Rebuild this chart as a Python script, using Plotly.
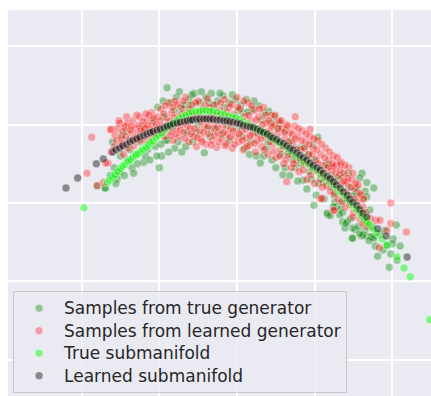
import plotly.graph_objects as go

# ---- data (grid units), as (x, y) pairs ----
true_gen = [
    (-1.69, 0.19), (-1.70, 0.19), (-1.54, 0.31), (-1.51, 0.40), (-1.60, 0.78), (-1.48, 0.86), (-1.40, 0.55),
    (-1.35, 0.45), (-1.30, 0.62), (-1.25, 0.78), (-1.20, 0.52), (-1.15, 0.68), (-1.10, 0.90), (-1.05, 0.72),
    (-1.00, 0.45), (-0.97, 0.60), (-0.92, 0.80), (-1.80, 0.22), (-1.58, 0.45), (-1.42, 0.92),
    (-0.90, 1.47), (-0.85, 1.28), (-0.78, 1.35), (-0.70, 1.20), (-0.62, 1.32), (-0.55, 1.40), (-0.48, 1.28),
    (-0.40, 1.35), (-0.33, 1.40), (-0.25, 1.30), (-0.18, 1.37), (-0.10, 1.28), (-0.02, 1.32), (0.05, 1.25),
    (0.12, 1.32), (0.20, 1.20), (0.28, 1.24), (0.35, 1.15), (0.41, 1.17), (0.48, 1.10), (0.55, 1.02),
    (-0.95, 1.30), (-1.02, 1.22),
    (-0.90, 0.80), (-0.80, 0.70), (-0.71, 0.65), (-0.65, 0.90), (-0.57, 0.78), (-0.50, 1.00), (-0.42, 0.64),
    (-0.35, 0.85), (-0.28, 0.95), (-0.20, 0.88), (-0.10, 0.80), (0.00, 0.95), (0.10, 0.70), (0.18, 0.78),
    (0.25, 0.60), (0.30, 0.51), (0.38, 0.70), (0.45, 0.55), (-0.60, 1.05), (-0.15, 1.05), (0.08, 1.15),
    (0.59, 0.36), (0.65, 0.62), (0.70, 0.80), (0.75, 0.45), (0.80, 0.70), (0.85, 0.29), (0.88, 0.55),
    (0.93, 0.40), (0.98, 0.74), (0.99, -0.03), (1.04, 0.84), (1.05, 0.25), (1.11, 0.26), (1.15, 0.50),
    (1.17, -0.15), (1.20, 0.35), (1.25, 0.10), (1.30, 0.30), (1.36, -0.24), (1.39, -0.32), (1.43, 0.38),
    (1.44, 0.20), (1.48, -0.45), (1.52, -0.34), (1.54, 0.13), (1.58, -0.10), (1.60, -0.42), (1.61, 0.38),
    (1.62, 0.06), (1.67, 0.26), (1.67, -0.42), (1.71, -0.09), (1.75, -0.43), (1.76, 0.19), (1.81, -0.68),
    (1.93, -0.54), (1.96, -0.82), (2.01, -0.46), (2.05, -0.28), (2.06, -0.73), (1.35, 0.00), (1.28, -0.05),
    (1.22, 0.20), (1.58, 0.32), (1.65, 0.15), (1.67, 0.08), (1.54, 0.19), (1.16, -0.13), (1.20, -0.16),
    (1.33, -0.08), (1.36, -0.12), (1.42, -0.24), (1.40, -0.26), (1.49, -0.32), (1.65, -0.34), (1.62, -0.41),
    (1.58, -0.39), (1.73, -0.43), (1.49, -0.45), (1.76, -0.45), (2.00, -0.52), (1.26, 0.01),
    (-1.63, 0.35), (-1.56, 0.25), (-1.50, 0.60), (-1.45, 0.35), (-1.38, 0.68), (-1.33, 0.38), (-1.28, 0.50),
    (-1.22, 0.95), (-1.18, 0.60), (-1.12, 0.55), (-1.08, 1.05), (-1.03, 0.60), (-0.98, 0.75), (-0.94, 1.10),
    (-0.88, 0.65), (-0.84, 0.95), (-0.80, 1.18), (-0.76, 0.78), (-0.74, 1.42), (-0.68, 1.25), (-0.66, 0.72),
    (-0.60, 1.25), (-0.58, 1.38), (-0.52, 0.90), (-0.46, 1.42), (-0.44, 1.10), (-0.38, 0.95), (-0.36, 1.28),
    (-0.30, 1.25), (-0.22, 1.40), (-0.16, 1.22), (-0.12, 0.98), (-0.06, 1.38), (0.02, 1.18), (0.06, 0.85),
    (0.14, 1.16), (0.16, 0.62), (0.22, 1.30), (0.24, 0.90), (0.32, 1.06), (0.34, 0.60), (0.40, 0.78),
    (0.44, 1.02), (0.50, 0.45), (0.52, 0.95), (0.56, 0.62), (0.62, 0.45), (0.62, 0.92), (0.68, 0.35),
    (0.72, 0.55), (0.78, 0.28), (0.82, 0.50), (0.86, 0.72), (0.90, 0.18), (0.92, 0.62), (0.96, 0.30),
    (1.00, 0.55), (1.02, 0.10), (1.08, 0.42), (1.12, 0.05), (1.18, 0.48), (1.24, -0.05), (1.26, 0.30),
    (1.32, -0.15), (1.34, 0.35), (1.40, 0.05), (1.46, -0.20), (1.50, 0.10), (1.56, -0.30), (1.64, -0.20),
    (1.70, -0.48), (1.74, -0.30), (1.78, -0.55), (1.84, -0.40), (1.88, -0.60), (1.90, -0.35), (1.98, -0.65),
    (2.10, -0.55),
]

learned_gen = [
    (-1.87, 0.84), (-1.93, 0.38), (-1.80, 0.22), (-1.72, 0.26), (-1.66, 0.51), (-1.62, 0.65), (-1.63, 0.93),
    (-1.62, 0.94), (-1.57, 0.87), (-1.52, 1.05), (-1.51, 1.02), (-1.45, 0.98), (-1.44, 0.97), (-1.42, 1.10),
    (-1.35, 0.89), (-1.38, 0.80), (-1.30, 0.95), (-1.28, 0.86), (-1.25, 1.10), (-1.22, 0.98), (-1.20, 0.90),
    (-1.16, 1.06), (-1.12, 0.95), (-1.10, 1.15), (-1.08, 1.02), (-1.05, 0.88), (-1.02, 1.10), (-1.50, 0.72),
    (-1.46, 0.62), (-1.40, 0.70), (-1.33, 0.73), (-1.55, 0.80), (-1.18, 0.80), (-1.69, 0.51),
    (-0.98, 1.20), (-0.95, 0.98), (-0.93, 0.85), (-0.90, 1.08), (-0.88, 1.28), (-0.86, 0.92), (-0.84, 1.15),
    (-0.82, 0.80), (-0.80, 1.30), (-0.78, 0.95), (-0.76, 1.10), (-0.74, 0.85), (-0.72, 1.22), (-0.70, 1.00),
    (-0.68, 0.90), (-0.66, 1.35), (-0.64, 1.15), (-0.62, 0.78), (-0.60, 0.95), (-0.58, 1.25), (-0.56, 0.85),
    (-0.54, 1.10), (-0.52, 0.72), (-0.50, 1.30), (-0.48, 0.92), (-0.46, 0.82), (-0.44, 1.20), (-0.42, 0.98),
    (-0.40, 0.75),
    (-0.38, 1.33), (-0.36, 0.88), (-0.34, 1.15), (-0.32, 0.80), (-0.30, 0.95), (-0.28, 1.25), (-0.26, 0.71),
    (-0.24, 0.90), (-0.22, 1.18), (-0.20, 0.83), (-0.18, 0.98), (-0.16, 1.32), (-0.14, 0.76), (-0.12, 0.88),
    (-0.10, 1.22), (-0.08, 0.95), (-0.06, 0.70), (-0.04, 1.13), (-0.02, 0.85), (0.00, 1.35), (0.02, 0.78),
    (0.04, 1.20), (0.06, 0.92), (0.08, 0.68), (0.10, 1.10), (0.12, 0.83), (0.14, 1.28), (0.16, 0.74),
    (0.18, 1.05), (0.20, 0.88), (0.22, 1.18), (0.24, 0.65), (0.26, 0.80), (0.28, 1.10), (0.30, 0.95),
    (0.32, 0.72), (0.34, 1.22), (0.36, 0.85), (0.38, 1.02),
    (0.40, 0.62), (0.42, 0.92), (0.44, 1.12), (0.46, 0.75), (0.48, 1.00), (0.50, 0.58), (0.52, 0.88),
    (0.54, 1.05), (0.56, 0.68), (0.58, 0.95), (0.60, 0.50), (0.62, 0.82), (0.64, 0.27), (0.64, 1.00),
    (0.66, 0.62), (0.68, 0.90), (0.70, 0.45), (0.72, 0.75), (0.74, 0.98), (0.75, 1.10), (0.76, 0.55),
    (0.78, 0.85), (0.80, 0.40), (0.82, 0.68), (0.84, 0.92), (0.86, 0.50), (0.88, 0.78), (0.90, 0.30),
    (0.92, 0.62), (0.94, 0.94), (0.94, 0.85), (0.96, 0.45), (0.98, 0.70), (1.00, 0.25),
    (1.02, 0.55), (1.04, 0.80), (1.06, 0.38), (1.08, 0.05), (1.08, 0.62), (1.10, 0.20), (1.12, 0.48),
    (1.14, 0.70), (1.16, 0.32), (1.18, 0.55), (1.20, 0.15), (1.22, 0.42), (1.24, -0.10), (1.24, 0.60),
    (1.26, 0.25), (1.28, 0.48), (1.30, 0.05), (1.32, 0.35), (1.34, 0.52), (1.36, 0.15), (1.38, 0.38),
    (1.40, -0.05), (1.42, 0.25), (1.44, 0.45), (1.46, 0.05), (1.48, 0.30), (1.50, -0.12), (1.52, 0.18),
    (1.55, 0.02), (1.58, -0.20), (1.60, 0.10), (1.62, -0.05), (1.65, -0.25),
    (1.79, -0.22), (1.84, -0.22), (1.83, -0.57), (1.93, -0.35), (1.98, -0.26), (1.98, 0.00), (2.18, -0.37),
    (1.62, -0.26), (1.49, -0.18), (1.25, -0.09), (1.09, 0.06), (1.39, 0.27), (1.33, 0.50), (1.24, 0.46),
    (1.56, 0.23),
    (-1.58, 0.72), (-1.54, 0.95), (-1.49, 0.83), (-1.47, 0.91), (-1.43, 0.85), (-1.41, 1.02), (-1.37, 0.93),
    (-1.34, 1.05), (-1.31, 0.82), (-1.27, 0.99), (-1.24, 0.92), (-1.21, 1.04), (-1.19, 0.95), (-1.15, 0.99),
    (-1.13, 1.12), (-1.09, 0.93), (-1.07, 1.08), (-1.04, 1.00), (-1.01, 0.97), (-1.36, 0.98), (-1.29, 1.12),
    (-1.17, 1.14), (-1.48, 0.76), (-1.25, 0.80), (-1.11, 0.84),
    (-0.99, 1.05), (-0.97, 0.90), (-0.94, 1.14), (-0.92, 1.24), (-0.89, 0.98), (-0.87, 1.04), (-0.85, 0.86),
    (-0.83, 1.22), (-0.81, 1.09), (-0.79, 0.88), (-0.77, 1.26), (-0.75, 1.02), (-0.73, 0.93), (-0.71, 1.14),
    (-0.69, 1.30), (-0.67, 0.82), (-0.65, 1.05), (-0.63, 0.98), (-0.61, 1.20), (-0.59, 0.88), (-0.57, 1.12),
    (-0.55, 0.95), (-0.53, 1.28), (-0.51, 0.83), (-0.49, 1.15), (-0.47, 1.04), (-0.45, 0.78), (-0.43, 0.90),
    (-0.41, 1.25), (-0.39, 1.08),
    (-0.37, 0.98), (-0.35, 1.22), (-0.33, 0.74), (-0.31, 1.05), (-0.29, 0.86), (-0.27, 1.12), (-0.25, 0.97),
    (-0.23, 0.78), (-0.21, 1.28), (-0.19, 1.08), (-0.17, 0.90), (-0.15, 0.73), (-0.13, 1.16), (-0.11, 1.03),
    (-0.09, 0.84), (-0.07, 1.26), (-0.05, 0.92), (-0.03, 0.75), (-0.01, 1.05), (0.01, 1.22), (0.03, 0.88),
    (0.05, 1.02), (0.07, 0.80), (0.09, 1.30), (0.11, 0.94), (0.13, 0.72), (0.15, 1.12), (0.17, 0.86),
    (0.19, 1.24), (0.21, 0.98), (0.23, 0.76), (0.25, 1.06), (0.27, 0.88), (0.29, 1.20), (0.31, 0.82),
    (0.33, 1.00), (0.35, 0.68), (0.37, 1.12), (0.39, 0.90),
    (0.41, 1.05), (0.43, 0.78), (0.45, 0.98), (0.47, 0.66), (0.49, 1.12), (0.51, 0.80), (0.53, 0.95),
    (0.55, 0.60), (0.57, 1.05), (0.59, 0.72), (0.61, 0.90), (0.63, 0.55), (0.65, 0.98), (0.67, 0.78),
    (0.69, 0.62), (0.71, 0.88), (0.73, 0.50), (0.75, 0.82), (0.77, 0.68), (0.79, 0.95), (0.81, 0.55),
    (0.83, 0.80), (0.85, 0.42), (0.87, 0.70), (0.89, 0.88), (0.91, 0.52), (0.93, 0.75), (0.95, 0.36),
    (0.97, 0.62), (0.99, 0.82),
    (1.01, 0.42), (1.03, 0.68), (1.05, 0.50), (1.07, 0.30), (1.09, 0.75), (1.11, 0.38), (1.13, 0.58),
    (1.15, 0.22), (1.17, 0.45), (1.19, 0.65), (1.21, 0.30), (1.23, 0.50), (1.25, 0.12), (1.27, 0.38),
    (1.29, 0.58), (1.31, 0.22), (1.33, 0.42), (1.35, 0.02), (1.37, 0.28), (1.39, 0.48), (1.41, 0.12),
    (1.43, 0.32), (1.45, -0.02), (1.47, 0.20), (1.49, 0.38), (1.51, 0.05), (1.53, 0.25), (1.56, -0.08),
    (1.58, 0.12), (1.61, -0.15), (1.63, 0.05), (1.66, -0.12), (1.68, -0.30), (1.72, -0.20),
]

true_sub = [
    (-1.97, -0.06), (-1.67, 0.26), (-1.64, 0.29), (-1.60, 0.33), (-1.57, 0.36), (-1.54, 0.40), (-1.50, 0.44),
    (-1.47, 0.47), (-1.44, 0.49), (-1.40, 0.53), (-1.37, 0.55), (-1.34, 0.58), (-1.30, 0.61), (-1.27, 0.63),
    (-1.24, 0.66), (-1.21, 0.68), (-1.17, 0.71), (-1.14, 0.74), (-1.11, 0.77), (-1.08, 0.79), (-1.04, 0.83),
    (-1.01, 0.86), (-0.97, 0.89), (-0.93, 0.93), (-0.89, 0.97), (-0.85, 1.00), (-0.82, 1.02), (-0.78, 1.05),
    (-0.74, 1.08), (-0.70, 1.10), (-0.66, 1.12), (-0.62, 1.14), (-0.58, 1.16), (-0.53, 1.17), (-0.48, 1.17),
    (-0.44, 1.18), (-0.40, 1.18), (-0.35, 1.17), (-0.31, 1.17), (-0.26, 1.16), (-0.21, 1.14), (-0.16, 1.13),
    (-0.11, 1.11), (-0.06, 1.10), (-0.02, 1.09), (0.03, 1.07), (0.08, 1.04), (0.13, 1.01), (0.19, 0.98),
    (0.24, 0.95), (0.29, 0.93), (0.34, 0.90), (0.39, 0.87), (0.44, 0.83), (0.49, 0.80), (0.54, 0.77),
    (0.59, 0.73), (0.65, 0.69), (0.70, 0.65), (0.75, 0.61), (0.81, 0.57), (0.86, 0.53), (0.92, 0.49),
    (0.97, 0.45), (1.03, 0.41), (1.08, 0.36), (1.13, 0.32), (1.19, 0.27), (1.24, 0.23), (1.29, 0.18),
    (1.33, 0.14), (1.38, 0.09), (1.42, 0.05), (1.46, 0.00), (1.50, -0.04), (1.54, -0.08), (1.58, -0.13),
    (1.61, -0.17), (1.64, -0.20), (1.67, -0.24), (1.70, -0.27), (1.75, -0.33), (1.80, -0.38), (1.87, -0.46),
    (1.93, -0.54), (2.06, -0.69), (2.15, -0.83), (2.23, -0.94), (2.48, -1.49),
]

learned_sub = [
    (-2.20, 0.19), (-2.05, 0.32), (-1.81, 0.50), (-1.72, 0.56), (-1.60, 0.65), (-1.56, 0.68), (-1.51, 0.70),
    (-1.47, 0.73), (-1.42, 0.75), (-1.38, 0.78), (-1.34, 0.80), (-1.29, 0.82), (-1.25, 0.84), (-1.20, 0.86),
    (-1.16, 0.88), (-1.12, 0.90), (-1.08, 0.91), (-1.03, 0.93), (-0.99, 0.94), (-0.94, 0.96), (-0.90, 0.98),
    (-0.86, 0.99), (-0.82, 1.01), (-0.77, 1.02), (-0.73, 1.03), (-0.68, 1.04), (-0.64, 1.05), (-0.60, 1.06),
    (-0.57, 1.06), (-0.52, 1.07), (-0.48, 1.07), (-0.43, 1.07), (-0.39, 1.07), (-0.35, 1.07), (-0.31, 1.07),
    (-0.26, 1.06), (-0.22, 1.06), (-0.17, 1.05), (-0.13, 1.05), (-0.09, 1.04), (-0.05, 1.03), (0.00, 1.02),
    (0.04, 1.01), (0.08, 0.99), (0.13, 0.98), (0.17, 0.97), (0.21, 0.96), (0.26, 0.94), (0.30, 0.92),
    (0.34, 0.90), (0.39, 0.88), (0.43, 0.85), (0.46, 0.83), (0.51, 0.81), (0.55, 0.78), (0.60, 0.76),
    (0.64, 0.73), (0.68, 0.70), (0.72, 0.68), (0.77, 0.64), (0.81, 0.61), (0.85, 0.58), (0.90, 0.55),
    (0.94, 0.51), (0.98, 0.48), (1.03, 0.45), (1.07, 0.42), (1.11, 0.38), (1.16, 0.34), (1.20, 0.31),
    (1.24, 0.27), (1.28, 0.23), (1.33, 0.19), (1.37, 0.14), (1.42, 0.10), (1.45, 0.05), (1.49, 0.01),
    (1.54, -0.03), (1.58, -0.08), (1.62, -0.13), (1.67, -0.18), (1.81, -0.33), (1.92, -0.42), (2.19, -0.69),
]

labels = ["Samples from true generator", "Samples from learned generator",
          "True submanifold", "Learned submanifold"]
colors = ["rgba(0,128,0,0.38)", "rgba(255,0,0,0.33)", "rgba(0,255,0,0.45)", "rgba(0,0,0,0.42)"]

fig = go.Figure()
for pts, name, col in zip([true_gen, learned_gen, true_sub, learned_sub], labels, colors):
    xs = [p[0] for p in pts]
    ys = [p[1] for p in pts]
    fig.add_trace(go.Scatter(
        x=xs, y=ys, mode="markers",
        name='<span style="font-size:17px">' + name + '</span>',
        marker=dict(size=8, color=col, line=dict(width=0.5, color="rgba(255,255,255,0.8)")),
    ))

axis_common = dict(showticklabels=False, ticks="", showgrid=True, gridcolor="white",
                   gridwidth=1.5, zeroline=False, showline=False, dtick=1, tick0=0)
fig.update_layout(
    width=431, height=396,
    margin=dict(l=8, r=0, t=10, b=0),
    paper_bgcolor="white", plot_bgcolor="#EAEAF2",
    xaxis=dict(range=[-2.947, 2.497], **axis_common),
    yaxis=dict(range=[-2.462, 2.462], **axis_common),
    font=dict(family="DejaVu Sans", size=15, color="#262626"),
    legend=dict(x=0.012, y=0.008, xanchor="left", yanchor="bottom",
                bgcolor="rgba(234,234,242,0.8)", bordercolor="rgba(200,200,200,1)", borderwidth=1,
                itemwidth=40, font=dict(size=15, color="#262626")),
    showlegend=True,
)
fig.write_html("out.html")
